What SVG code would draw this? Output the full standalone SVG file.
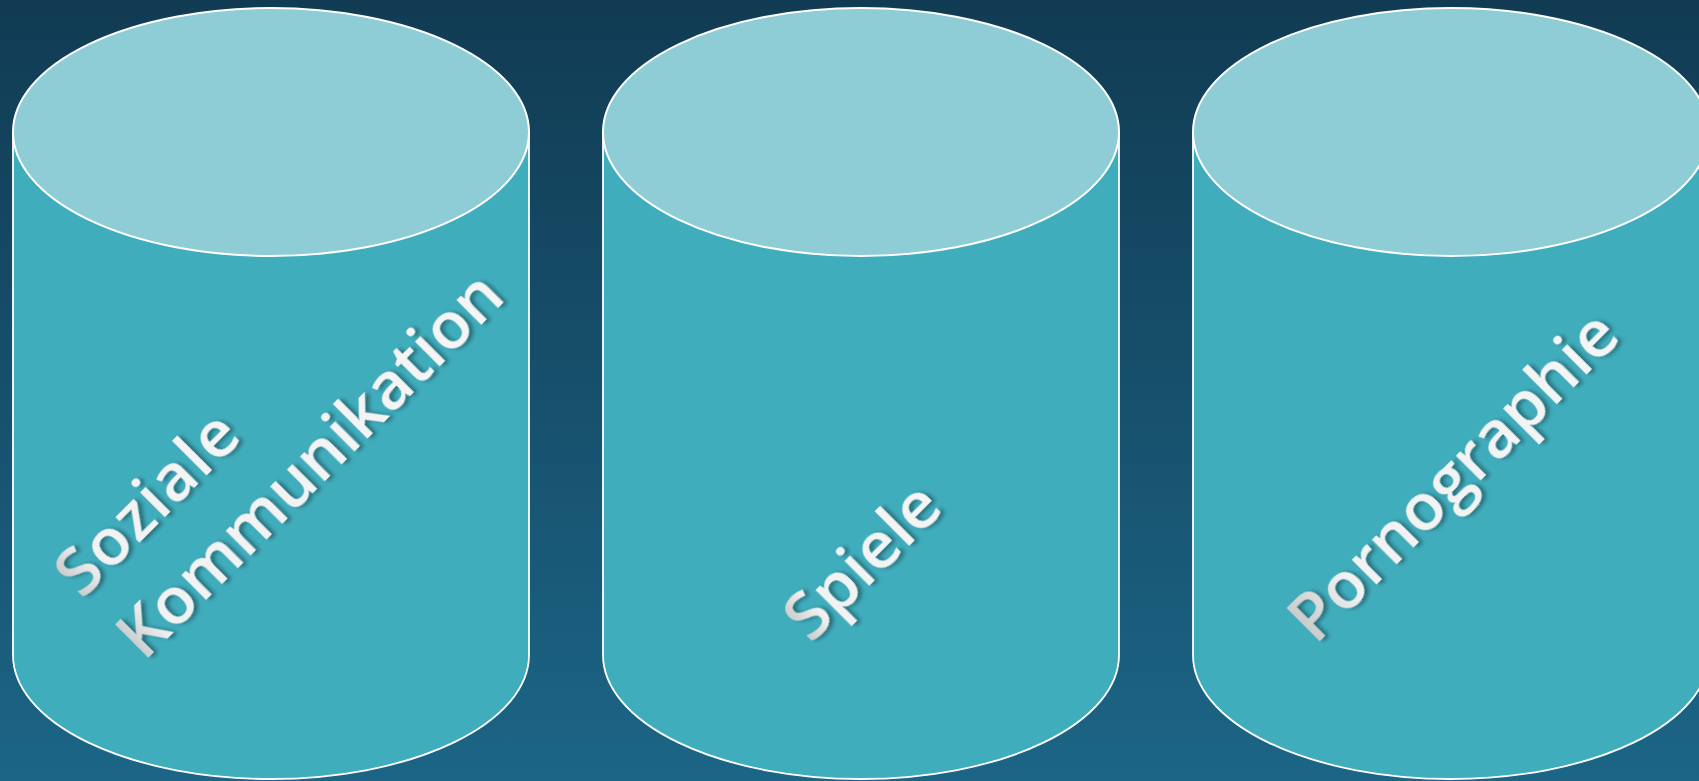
<svg xmlns="http://www.w3.org/2000/svg" width="1699" height="781" viewBox="0 0 1699 781">
  <defs>
    <linearGradient id="bg" x1="0" y1="0" x2="0" y2="1">
      <stop offset="0" stop-color="#113b53"/>
      <stop offset="1" stop-color="#1c6586"/>
    </linearGradient>
    <linearGradient id="txtShort" x1="0" y1="0" x2="1" y2="0">
      <stop offset="0" stop-color="#c8c8c8"/>
      <stop offset="0.16" stop-color="#f2f2f2"/>
      <stop offset="1" stop-color="#f5f5f5"/>
    </linearGradient>
    <linearGradient id="txtLong" x1="0" y1="0" x2="1" y2="0">
      <stop offset="0" stop-color="#c8c8c8"/>
      <stop offset="0.08" stop-color="#f2f2f2"/>
      <stop offset="1" stop-color="#f5f5f5"/>
    </linearGradient>
    <filter id="shadow" x="-10%" y="-30%" width="120%" height="160%">
      <feDropShadow dx="3" dy="3" stdDeviation="2.2" flood-color="#000" flood-opacity="0.38"/>
    </filter>
  </defs>
  <style>
    .body { fill: #40adbd; stroke: #ffffff; stroke-width: 1.8; }
    .top { fill: #8ecdd6; stroke: #ffffff; stroke-width: 2; }
    .label { font-family: "Open Sans", "Noto Sans", "DejaVu Sans", sans-serif; font-weight: 600; font-size: 66px; filter: url(#shadow); }
  </style>

  <rect width="1699" height="781" fill="url(#bg)"/>

  <!-- cylinder 1 -->
  <g id="cyl-sozial">
    <path class="body" d="M13,132 L13,655 A258,124 0 0 0 529,655 L529,132 Z"/>
    <ellipse class="top" cx="271" cy="132" rx="258" ry="124"/>
    <text class="label" fill="url(#txtShort)" letter-spacing="1.2" transform="translate(82,600) rotate(-45)">Soziale</text>
    <text class="label" fill="url(#txtLong)" transform="translate(144,662) rotate(-45)">Kommunikation</text>
  </g>

  <!-- cylinder 2 -->
  <g id="cyl-spiele">
    <path class="body" d="M603,132 L603,655 A258,124 0 0 0 1119,655 L1119,132 Z"/>
    <ellipse class="top" cx="861" cy="132" rx="258" ry="124"/>
    <text class="label" fill="url(#txtShort)" text-anchor="middle" transform="translate(878,577) rotate(-45)">Spiele</text>
  </g>

  <!-- cylinder 3 -->
  <g id="cyl-porno">
    <path class="body" d="M1193,132 L1193,655 A258,124 0 0 0 1709,655 L1709,132 Z"/>
    <ellipse class="top" cx="1451" cy="132" rx="258" ry="124"/>
    <text class="label" fill="url(#txtShort)" text-anchor="middle" transform="translate(1469,492) rotate(-45)">Pornographie</text>
  </g>
</svg>
